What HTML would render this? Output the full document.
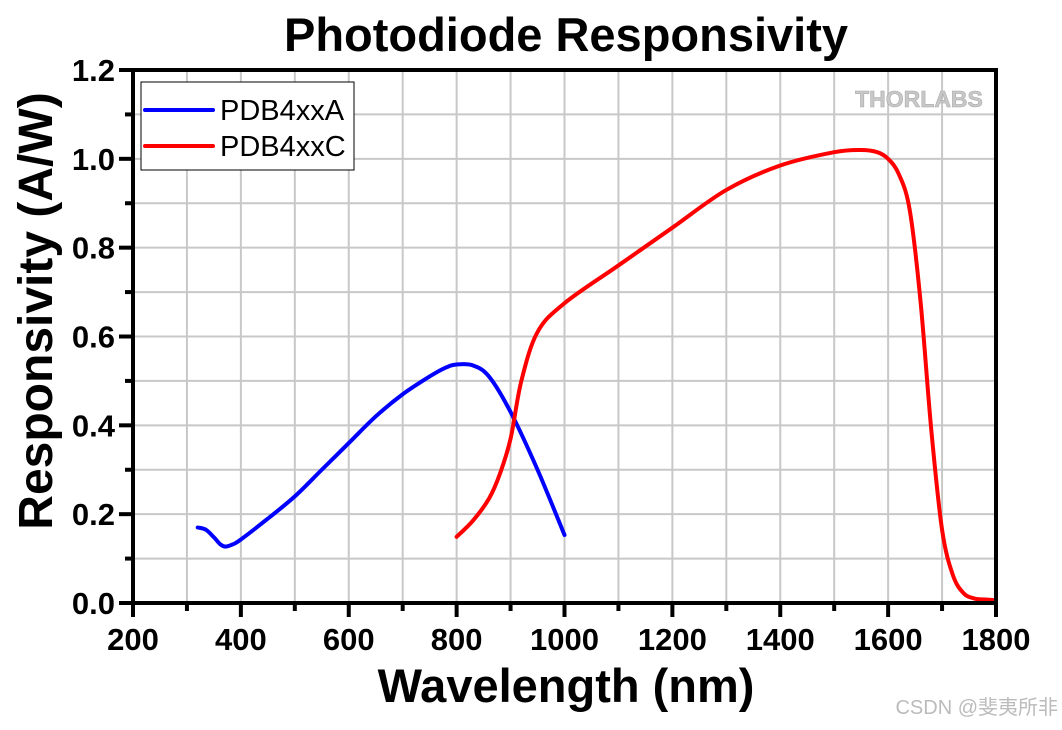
<!DOCTYPE html>
<html><head><meta charset="utf-8"><style>
body{margin:0;background:#fff;width:1062px;height:725px;overflow:hidden}
svg text{font-family:"Liberation Sans","Noto Sans CJK SC",sans-serif}
</style></head><body>
<svg id="chart" width="1062" height="725">
<text x="566" y="51" text-anchor="middle" font-size="47" font-weight="bold">Photodiode Responsivity</text>
<g id="grid"></g>
<g id="series"></g>
<g id="axes"></g>
<text x="566" y="702" text-anchor="middle" font-size="47" font-weight="bold">Wavelength (nm)</text>
<text transform="translate(52,311) rotate(-90)" text-anchor="middle" font-size="48" font-weight="bold">Responsivity (A/W)</text>
<text x="919" y="107" text-anchor="middle" font-size="23" font-weight="bold" fill="#c8c8c8" stroke="#aaa" stroke-width="0.6">THORLABS</text>
<g>
<rect x="141" y="82" width="213" height="88" fill="#fff" stroke="#000" stroke-width="1"/>
<line x1="145" y1="110" x2="213" y2="110" stroke="#0000ff" stroke-width="4" stroke-linecap="round"/>
<text x="220" y="120" font-size="29">PDB4xxA</text>
<line x1="145" y1="146" x2="213" y2="146" stroke="#ff0000" stroke-width="4" stroke-linecap="round"/>
<text x="220" y="156" font-size="29">PDB4xxC</text>
</g>
<text x="1058" y="714" text-anchor="end" font-size="20" fill="#bbb">CSDN @斐夷所非</text>
</svg>
<script>
const xTicks=[200,400,600,800,1000,1200,1400,1600,1800];
const yTicks=[0.0,0.2,0.4,0.6,0.8,1.0,1.2];
const aWave=[320,335,350,362,372,385,400,450,500,550,600,650,700,750,780,800,830,860,900,950,1000];
const aResp=[0.17,0.165,0.148,0.132,0.127,0.132,0.143,0.19,0.24,0.3,0.36,0.42,0.47,0.51,0.53,0.537,0.535,0.51,0.43,0.3,0.153];
const cWave=[800,830,860,880,900,920,950,1000,1100,1200,1300,1400,1500,1550,1580,1600,1620,1640,1660,1680,1700,1720,1740,1760,1780,1800];
const cResp=[0.149,0.185,0.235,0.29,0.37,0.5,0.61,0.675,0.76,0.845,0.93,0.985,1.015,1.02,1.015,1.0,0.965,0.885,0.68,0.39,0.165,0.063,0.022,0.01,0.008,0.006];
const X0=133,X1=996,Y0=603,Y1=70;
const sx=v=>X0+(v-200)/1600*(X1-X0);
const sy=v=>Y0-v/1.2*(Y0-Y1);
const NS='http://www.w3.org/2000/svg';
function mk(p,tag,at){const e=document.createElementNS(NS,tag);for(const k in at)e.setAttribute(k,at[k]);p.appendChild(e);return e;}
const grid=document.getElementById('grid'),axes=document.getElementById('axes'),ser=document.getElementById('series');
for(let v=300;v<1800;v+=100){const l=mk(grid,'line',{x1:sx(v),x2:sx(v),y1:Y1,y2:Y0,stroke:'#c8c8c8','stroke-width':2});

}
for(let i=1;i<12;i++){const v=i/10;const l=mk(grid,'line',{x1:X0,x2:X1,y1:sy(v),y2:sy(v),stroke:'#c8c8c8','stroke-width':2});

}
function path(xs,ys,col,name){
 const P=xs.map((x,i)=>[sx(x),sy(ys[i])]);let d='M'+P[0][0]+','+P[0][1];
 for(let i=0;i<P.length-1;i++){const p0=P[Math.max(0,i-1)],p1=P[i],p2=P[i+1],p3=P[Math.min(P.length-1,i+2)];
 d+=` C${p1[0]+(p2[0]-p0[0])/6},${p1[1]+(p2[1]-p0[1])/6} ${p2[0]-(p3[0]-p1[0])/6},${p2[1]-(p3[1]-p1[1])/6} ${p2[0]},${p2[1]}`;}
 const e=mk(ser,'path',{d:d,fill:'none',stroke:col,'stroke-width':4,'stroke-linejoin':'round','stroke-linecap':'round'});
 
 
}
path(aWave,aResp,'#0000ff','series-pdb4xxa');
path(cWave,cResp,'#ff0000','series-pdb4xxc');
const fr=mk(axes,'rect',{x:X0,y:Y1,width:X1-X0,height:Y0-Y1,fill:'none',stroke:'#000','stroke-width':4});


for(let v=200;v<=1800;v+=100){const maj=v%200==0;const t=mk(axes,'line',{x1:sx(v),x2:sx(v),y1:Y0,y2:Y0+(maj?14:8),stroke:'#000','stroke-width':4});

}
for(let i=0;i<=12;i++){const v=i/10,maj=i%2==0;const t=mk(axes,'line',{x1:X0-(maj?14:8),x2:X0,y1:sy(v),y2:sy(v),stroke:'#000','stroke-width':4});

}
xTicks.forEach(v=>{const t=mk(axes,'text',{x:sx(v),y:Y0+47,'text-anchor':'middle','font-size':31,'font-weight':'bold'});t.textContent=v;

});
yTicks.forEach(v=>{const t=mk(axes,'text',{x:X0-18,y:sy(v)+11,'text-anchor':'end','font-size':31,'font-weight':'bold'});t.textContent=v.toFixed(1);

});
</script>
</body></html>
